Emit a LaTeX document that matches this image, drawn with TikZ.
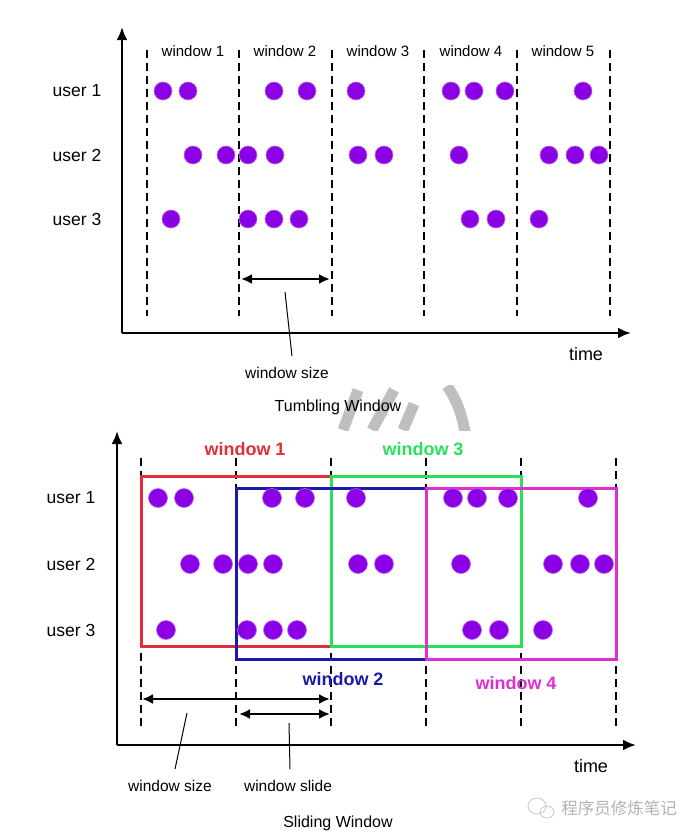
\documentclass[tikz,border=0pt]{standalone}
\usepackage{fontspec}
\setmainfont{Liberation Sans}
\newfontfamily\cjk{Noto Sans CJK SC}
\usetikzlibrary{arrows.meta}

\definecolor{evviolet}{RGB}{140,0,230}
\definecolor{winred}{RGB}{225,45,60}
\definecolor{wingreen}{RGB}{40,225,90}
\definecolor{winblue}{RGB}{25,25,170}
\definecolor{winmagenta}{RGB}{225,45,210}

\tikzset{
  ev/.style={circle, fill=evviolet, draw=evviolet!60!white, line width=0.6pt, inner sep=0pt, minimum size=18pt},
  winline/.style={dash pattern=on 8pt off 5pt, line width=2.2pt},
  timeaxis/.style={line width=2.6pt, -{Latex[length=13pt,width=11pt]}},
  sizearrow/.style={line width=2.4pt, {Latex[length=11pt,width=10pt]}-{Latex[length=11pt,width=10pt]}},
  pointer/.style={line width=1pt},
  userlbl/.style={font=\fontsize{17.5}{20}\selectfont, inner sep=0pt},
  winlbl/.style={font=\fontsize{15}{18}\selectfont, inner sep=0pt},
  smalllbl/.style={font=\fontsize{15.5}{18}\selectfont, inner sep=0pt},
  timelbl/.style={font=\fontsize{18}{20}\selectfont, inner sep=0pt},
  titlelbl/.style={font=\fontsize{16}{19}\selectfont, inner sep=0pt},
  colorlbl/.style={font=\bfseries\fontsize{18}{20}\selectfont, inner sep=0pt},
  winbox/.style={line width=3pt},
  wmstroke/.style={line width=11pt, gray!50},
}

\begin{document}
\begin{tikzpicture}[x=1pt, y=-1pt]
  \useasboundingbox (0,0) rectangle (700,839);

  % watermark strokes
  \begin{scope}
    \clip (0,385) rectangle (700,430);
    \draw[wmstroke] (358,390) -- (343,430);
    \draw[wmstroke] (394,390) -- (372,430);
    \draw[wmstroke] (414,404) -- (403,430);
    \draw[wmstroke] (447,386) .. controls (457,400) and (462,415) .. (465,432);
  \end{scope}

  % ---- Tumbling Window ----
  % axes
  \coordinate (to) at (122,333);
  \coordinate (ttop) at (122,27);
  \coordinate (tend) at (631,333);
  \draw[timeaxis] (to) -- (ttop);
  \draw[timeaxis] (to) -- (tend);
  % window borders
  \foreach \x in {147,239,332,424,517,610}
    \draw[winline] (\x,50) -- (\x,316);
  % window names
  \foreach \x [count=\i] in {193,285,378,471,563}
    \node[winlbl] (tw\i) at (\x,51) {window \i};
  % users
  \node[userlbl] (tu1) at (77,91) {user 1};
  \node[userlbl] (tu2) at (77,155) {user 2};
  \node[userlbl] (tu3) at (77,219) {user 3};
  % events
  \foreach \x [count=\i] in {163,188,274,307,356,451,474,505,583}
    \node[ev] (ta\i) at (\x,91) {};
  \foreach \x [count=\i] in {193,226,248,275,358,384,459,549,575,599}
    \node[ev] (tb\i) at (\x,155) {};
  \foreach \x [count=\i] in {171,248,274,299,470,496,539}
    \node[ev] (tc\i) at (\x,219) {};
  % window size
  \coordinate (tsl) at (241,279);
  \coordinate (tsr) at (330,279);
  \coordinate (tsp) at (285,292);
  \draw[sizearrow] (tsl) -- (tsr);
  \node[smalllbl] (tsize) at (287,373) {window size};
  \draw[pointer] ([xshift=5pt,yshift=11pt]tsize.north) -- (tsp);
  \node[timelbl] (ttime) at (586,354) {time};
  \node[titlelbl] (ttitle) at (338,407) {Tumbling Window};

  % ---- Sliding Window ----
  % axes
  \coordinate (so) at (117,745);
  \coordinate (stop) at (117,431);
  \coordinate (send) at (636,745);
  \draw[timeaxis] (so) -- (stop);
  \draw[timeaxis] (so) -- (send);
  % borders
  \foreach \x in {141,236,331,426,521,616}
    \draw[winline] (\x,458) -- (\x,728);
  % windows
  \draw[winbox, winred] (141,476) rectangle (331,646);
  \draw[winbox, wingreen] (331,476) rectangle (521,646);
  \draw[winbox, winblue] (236,488) rectangle (426,659);
  \draw[winbox, winmagenta] (426,488) rectangle (616,659);
  \node[colorlbl, text=winred] (sw1) at (245,449) {window 1};
  \node[colorlbl, text=wingreen] (sw3) at (423,449) {window 3};
  \node[colorlbl, text=winblue] (sw2) at (343,679) {window 2};
  \node[colorlbl, text=winmagenta] (sw4) at (516,683) {window 4};
  % users
  \node[userlbl] (su1) at (71,498) {user 1};
  \node[userlbl] (su2) at (71,564) {user 2};
  \node[userlbl] (su3) at (71,630) {user 3};
  % events
  \foreach \x [count=\i] in {158,184,272,305,356,453,477,508,588}
    \node[ev, minimum size=19pt] (sa\i) at (\x,498) {};
  \foreach \x [count=\i] in {190,223,248,273,358,384,461,553,580,604}
    \node[ev, minimum size=19pt] (sb\i) at (\x,564) {};
  \foreach \x [count=\i] in {166,247,273,297,472,499,543}
    \node[ev, minimum size=19pt] (sc\i) at (\x,630) {};
  % size and slide
  \coordinate (ssl) at (142,699);
  \coordinate (ssr) at (330,699);
  \coordinate (sll) at (239,714);
  \coordinate (slr) at (330,714);
  \coordinate (ssp) at (187,713);
  \coordinate (slp) at (289,723);
  \draw[sizearrow] (ssl) -- (ssr);
  \draw[sizearrow] (sll) -- (slr);
  \node[smalllbl] (ssize) at (170,786) {window size};
  \node[smalllbl] (sslide) at (288,786) {window slide};
  \draw[pointer] ([xshift=5pt,yshift=11pt]ssize.north) -- (ssp);
  \draw[pointer] ([xshift=2pt,yshift=11pt]sslide.north) -- (slp);
  \node[timelbl] (stime) at (591,766) {time};
  \node[titlelbl] (stitle) at (338,823) {Sliding Window};

  % watermark
  \draw[gray!45, line width=0.8pt] (537,806) ellipse (9pt and 8pt);
  \draw[gray!45, line width=0.8pt] (547,812) ellipse (7pt and 6pt);
  \node[font=\cjk\fontsize{16.5}{18}\selectfont, text=gray!60, inner sep=0pt] (wm) at (619,808) {程序员修炼笔记};
\end{tikzpicture}
\end{document}
